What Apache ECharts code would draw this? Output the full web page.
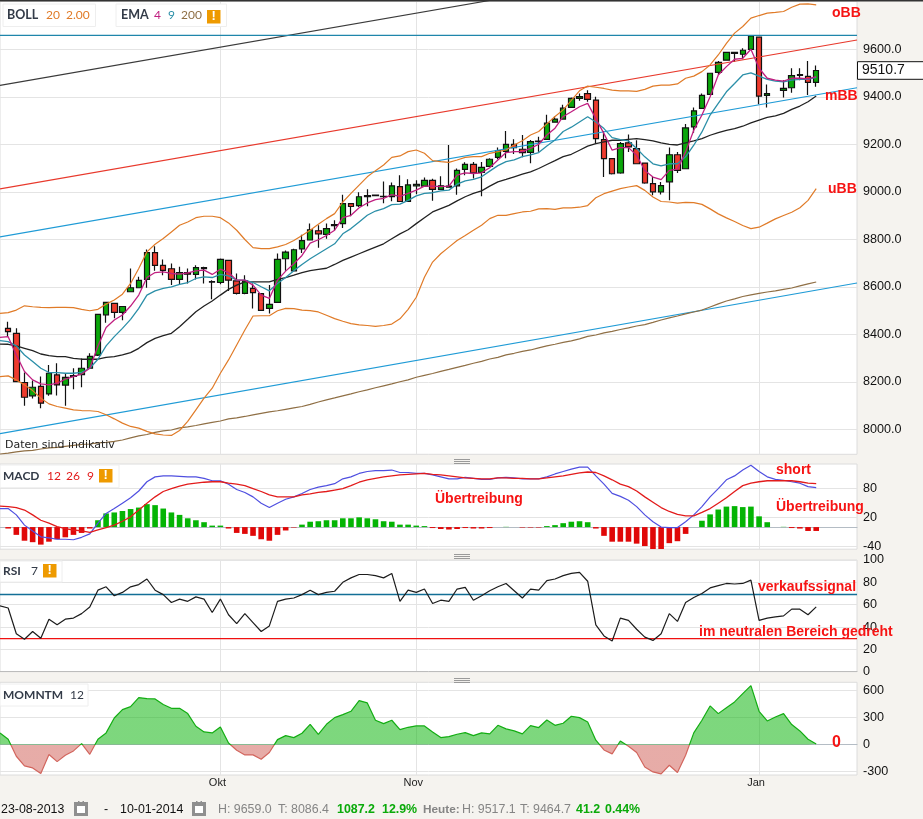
<!DOCTYPE html>
<html><head><meta charset="utf-8">
<script src="https://cdn.jsdelivr.net/npm/echarts@6/dist/echarts.min.js"></script>
<style>html,body{margin:0;padding:0;background:#f5f3ef}#c{width:923px;height:819px}</style>
</head><body><div id="c"></div>
<script>
const dates=['23.08','26.08','27.08','28.08','29.08','30.08','02.09','03.09','04.09','05.09','06.09','09.09','10.09','11.09','12.09','13.09','16.09','17.09','18.09','19.09','20.09','23.09','24.09','25.09','26.09','27.09','30.09','01.10','02.10','03.10','04.10','07.10','08.10','09.10','10.10','11.10','14.10','15.10','16.10','17.10','18.10','21.10','22.10','23.10','24.10','25.10','28.10','29.10','30.10','31.10','01.11','04.11','05.11','06.11','07.11','08.11','11.11','12.11','13.11','14.11','15.11','18.11','19.11','20.11','21.11','22.11','25.11','26.11','27.11','28.11','29.11','02.12','03.12','04.12','05.12','06.12','09.12','10.12','11.12','12.12','13.12','16.12','17.12','18.12','19.12','20.12','23.12','24.12','25.12','26.12','27.12','30.12','31.12','01.01','02.01','03.01','06.01','07.01','08.01','09.01','10.01','13.01','14.01','15.01','16.01','17.01'];
const monthTicks={'01.10':'Okt','04.11':'Nov','01.01':'Jan'};
const priceTicks=[8000,8200,8400,8600,8800,9000,9200,9400,9600];
const macdTicks=[-40,20,80];
const rsiTicks=[0,20,40,60,80,100];
const momTicks=[-300,0,300,600];
// candles: first entry is 26.08
const open=[8425,8404,8197,8141,8181,8149,8229,8186,8223,8230,8257,8312,8482,8530,8492,8579,8596,8631,8744,8690,8676,8631,8660,8652,8676,8620,8618,8711,8625,8572,8593,8571,8509,8534,8718,8667,8760,8797,8836,8821,8857,8866,8950,8942,8980,8986,8979,8980,9022,8959,9025,9024,9048,9010,9019,9025,9094,9115,9082,9107,9145,9170,9200,9179,9166,9211,9221,9293,9306,9355,9393,9413,9386,9220,9140,9079,9206,9182,9121,9034,8999,9042,9156,9097,9273,9351,9410,9503,9554,9583,9579,9600,9651,9406,null,9427,9438,9490,9486,9461];
const close=[8411,8201,8135,8177,8110,8236,8187,8219,8226,8257,8307,8484,8534,8492,8517,8596,8627,8744,8690,8669,8631,8660,8653,8681,8681,8622,8715,8628,8572,8625,8575,8501,8526,8715,8746,8756,8794,8840,8823,8845,8862,8950,8938,8979,8984,8984,8981,9025,8959,9029,9031,9048,9010,9025,9024,9090,9115,9080,9103,9137,9173,9200,9186,9165,9211,9213,9289,9306,9352,9393,9401,9389,9224,9140,9076,9203,9189,9118,9037,9000,9026,9156,9090,9269,9341,9406,9499,9545,9587,9587,9596,9656,9403,9413,null,9435,9489,9493,9461,9510.7];
const low=[8390,8198,8099,8130,8089,8141,8142,8099,8169,8177,8254,8309,8449,8468,8459,8578,8594,8596,8667,8649,8607,8611,8614,8631,8614,8548,8611,8582,8568,8569,8509,8499,8488,8533,8668,8666,8742,8795,8764,8802,8838,8847,8897,8936,8939,8981,8952,8960,8957,8957,8990,9021,8962,9007,9018,8988,9070,9056,8981,9105,9137,9141,9159,9145,9120,9169,9218,9292,9303,9354,9383,9379,9203,9062,9073,9076,9168,9116,9034,8985,8989,8964,9079,9095,9249,9349,9407,9492,9552,9548,9558,9597,9369,9355,null,9397,9417,9470,9407,9442];
const high=[8453,8425,8239,8205,8222,8271,8278,8236,8257,8298,8320,8484,8537,8533,8519,8677,8642,8757,8771,8715,8698,8684,8677,8691,8684,8628,8719,8712,8656,8649,8614,8572,8607,8740,8753,8760,8819,8866,8859,8866,8880,8988,8953,8998,9011,8988,9043,9039,9070,9053,9049,9060,9055,9065,9197,9098,9124,9125,9125,9141,9186,9256,9221,9239,9218,9232,9324,9317,9366,9397,9414,9428,9400,9256,9140,9210,9241,9217,9121,9062,9041,9186,9168,9285,9355,9414,9501,9551,9590,9590,9604,9659,9652,9452,null,9470,9520,9520,9551,9532];
// overlays: first entry is 23.08
const ema4=[8387,8390,8313,8243,8208,8191,8187,8194,8211,8222,8233,8257,8351,8429,8460,8481,8519,8565,8639,8660,8663,8656,8653,8659,8667,8670,8652,8674,8660,8628,8628,8607,8565,8551,8628,8666,8697,8732,8784,8798,8816,8838,8891,8901,8933,8953,8967,8972,8988,8981,8993,9007,9024,9024,9022,9024,9070,9080,9077,9080,9101,9134,9165,9169,9169,9183,9200,9239,9268,9317,9337,9358,9372,9308,9245,9175,9186,9186,9154,9090,9062,9051,9090,9095,9168,9259,9323,9400,9492,9527,9558,9562,9600,9520,9478,9470,9466,9478,9478,9475,9485];
const ema9=[8373,8369,8351,8313,8285,8257,8239,8239,8236,8236,8240,8257,8295,8351,8390,8425,8463,8509,8565,8583,8593,8600,8610,8618,8635,8642,8639,8652,8646,8628,8628,8618,8600,8583,8614,8639,8668,8694,8718,8739,8760,8781,8823,8845,8873,8901,8919,8929,8946,8948,8964,8983,8993,8996,9004,9007,9032,9046,9052,9063,9087,9110,9127,9134,9148,9155,9165,9193,9218,9254,9272,9294,9316,9294,9266,9228,9220,9214,9182,9147,9118,9109,9118,9118,9147,9196,9252,9323,9372,9421,9456,9492,9501,9487,9473,9466,9463,9470,9473,9473,9482];
const bollMid=[8359,8358,8351,8341,8331,8317,8310,8306,8306,8299,8295,8295,8295,8303,8306,8313,8323,8341,8365,8383,8394,8404,8432,8463,8495,8519,8540,8565,8589,8607,8621,8621,8621,8621,8631,8639,8649,8660,8668,8673,8678,8694,8711,8725,8739,8753,8767,8781,8802,8823,8840,8866,8891,8915,8929,8943,8962,8979,8993,9004,9024,9042,9052,9063,9074,9084,9098,9115,9131,9148,9158,9175,9192,9203,9210,9217,9217,9221,9224,9220,9214,9206,9200,9197,9206,9214,9224,9238,9249,9259,9266,9276,9290,9302,9313,9320,9330,9347,9361,9379,9403];
const bollUp=[8488,8491,8502,8520,8516,8513,8512,8513,8513,8512,8505,8499,8505,8527,8544,8569,8614,8677,8747,8779,8803,8831,8859,8873,8891,8897,8897,8891,8869,8838,8799,8765,8761,8761,8768,8778,8795,8816,8838,8863,8887,8908,8957,8993,9028,9063,9089,9113,9145,9151,9169,9176,9162,9131,9127,9124,9134,9145,9148,9148,9162,9169,9176,9197,9215,9239,9254,9286,9317,9345,9385,9425,9445,9440,9435,9428,9425,9425,9423,9431,9445,9449,9449,9454,9478,9487,9506,9534,9576,9625,9668,9696,9731,9742,9752,9755,9759,9777,9790,9791,9787];
const bollLow=[8222,8225,8208,8187,8163,8131,8107,8096,8089,8082,8079,8078,8075,8061,8044,8026,8012,8005,7991,7981,7976,7974,7995,8033,8082,8131,8173,8236,8292,8355,8418,8477,8478,8478,8499,8509,8508,8502,8500,8494,8480,8466,8455,8445,8440,8437,8433,8437,8443,8465,8505,8556,8640,8704,8739,8767,8795,8816,8838,8859,8887,8901,8901,8908,8915,8918,8928,8929,8926,8932,8932,8935,8942,8975,8992,9003,9013,9020,9026,9006,8978,8959,8957,8952,8955,8954,8947,8928,8907,8890,8875,8858,8845,8851,8868,8886,8900,8914,8933,8964,9013];
const ema200=[7896,7900,7905,7909,7911,7917,7922,7924,7928,7932,7936,7938,7943,7945,7949,7955,7964,7972,7978,7987,7993,7997,8006,8010,8016,8023,8029,8035,8044,8048,8054,8061,8067,8073,8078,8084,8090,8096,8105,8115,8124,8132,8141,8149,8158,8166,8175,8183,8191,8200,8208,8219,8227,8235,8244,8252,8261,8269,8278,8286,8296,8303,8313,8320,8328,8334,8343,8351,8358,8366,8372,8381,8391,8397,8406,8412,8420,8427,8435,8441,8450,8460,8469,8477,8486,8494,8502,8515,8528,8540,8549,8559,8566,8572,8578,8583,8589,8595,8604,8612,8620];
// trend lines, start and end value over the whole date range
const trendBlack=[9448,10074];
const trendRed=[9012,9639];
const trendBlueUp=[8810,9438];
const trendBlueLow=[7982,8616];
const levelTop=[9658.5,9658.5];
// indicators: first entry is 23.08
const macdHist=[0,-3,-16,-28,-31,-36,-30,-25,-21,-16,-12,-3,14,28,30,33,37,40,47,45,38,30,25,18,14,10,3,3,-3,-12,-14,-18,-25,-28,-16,-7,-1,5,11,12,14,14,18,18,20,18,16,12,11,5,5,3,2,-2,-4,-5,-4,-2,-3,-3,-2,0,0.5,0,-1,-1,-1,2,4,8,11,12,10,-3,-18,-30,-30,-30,-34,-39,-45,-45,-33,-29,-14,0,13,26,36,42,43,41,42,22,10,0,0.5,-2,-3,-8,-8];
const macdLine=[38,38,25,4,-8,-20,-22,-25,-25,-26,-21,-14,8,28,38,49,60,74,93,103,105,105,104,103,103,100,95,95,88,77,71,62,49,40,49,57,62,69,77,82,85,89,99,103,110,114,116,116,117,112,112,110,110,107,103,99,99,102,100,98,98,101,102,101,99,99,99,103,109,114,119,123,123,105,88,69,63,55,42,25,11,0,-1,-1,11,25,42,62,79,97,105,117,127,114,103,98,96,93,90,83,81];
const macdSignal=[43,42,40,35,25,14,8,1,-3,-6,-8,-11,-6,-1,4,12,21,35,49,62,73,79,84,88,90,92,93,93,90,88,85,79,73,66,62,62,62,66,68,71,73,76,79,85,92,97,100,103,105,107,108,109,110,108,107,105,103,101,100,99,99,101,101,100,100,99,99,101,103,105,108,111,113,112,105,97,88,83,74,62,51,40,32,26,23,23,30,38,49,60,73,85,90,93,95,95,95,95,93,90,89];
const rsi=[59,57,34,29,36,30,47,42,47,48,52,58,73,76,68,71,76,78,83,73,69,62,65,63,67,65,53,65,51,43,52,44,36,41,63,65,66,69,73,69,71,72,80,84,87,87,86,84,88,63,73,71,74,61,64,63,74,75.5,64,68,72.5,76,79,72.5,66,74,73,81.5,83,86,88,89,81,42,32,27.5,48,46,38,31,28,34,52,45,62,66.5,70,75,77,79,78.5,79,82,46,48,49,50,56,56,51,58];
const rsiHigh=[69.1,69.1];
const rsiLow=[29.7,29.7];
const momentum=[129,59,-129,-236,-258,-320,-110,-188,-118,-70,11,-107,59,129,294,386,419,519,508,504,442,401,401,342,202,140,129,195,18,-63,-114,-114,-162,-88,55,99,77,125,224,114,224,298,331,368,486,460,269,232,269,166,191,206,206,140,77,88,114,132,99,129,118,213,173,151,118,210,188,272,213,236,313,298,250,48,-59,-103,40,-18,-88,-247,-302,-324,-228,-309,-118,129,269,427,342,408,471,563,651,368,261,305,342,221,151,59,7];

const lastPrice=close[close.length-1];
const axisFont='"Liberation Sans",Arial,sans-serif';
const legendFont='Lato,"Open Sans",sans-serif';
const candles=[null].concat(open.map((o,i)=>o===null?null:[o,close[i],low[i],high[i]])).map(d=>d===null?'-':d);
const n=dates.length-1;
const two=(v)=>[[dates[0],v[0]],[dates[n],v[1]]];
const gridLine={show:true,lineStyle:{color:'#e4e4e4',width:1}};
const grids=[
 {left:-2.48,width:859.5,top:1.3,height:453},
 {left:-2.48,width:859.5,top:464,height:85.2},
 {left:-2.48,width:859.5,top:560,height:111.7},
 {left:-2.48,width:859.5,top:682.3,height:92.7}
].map(g=>Object.assign(g,{show:true,backgroundColor:'#fff',borderColor:'#dcdcdc',borderWidth:1}));
const xAxis=grids.map((g,i)=>({
 type:'category',gridIndex:i,data:dates,boundaryGap:false,
 axisTick:{show:false},
 axisLine:(i===1||i===3)?{show:true,onZero:true,lineStyle:{color:'#b4bcc4',width:1}}:(i===2?{show:true,onZero:false,lineStyle:{color:'#bcbcbc',width:1}}:{show:false}),
 splitLine:{show:true,interval:(idx,v)=>!!monthTicks[v],lineStyle:{color:'#e4e4e4',width:1}},
 axisLabel:i===3?{show:true,interval:(idx,v)=>!!monthTicks[v],formatter:v=>monthTicks[v]||'',color:'#222',fontFamily:axisFont,fontSize:11,margin:2,padding:[0,6,0,0]}:{show:false}
}));
const yAxisBase=(i,min,max,ticks,fmt)=>({
 type:'value',gridIndex:i,position:'right',min,max,
 axisLine:{show:false},axisTick:{show:false,customValues:ticks},
 splitLine:gridLine,
 axisLabel:{show:true,customValues:ticks,formatter:fmt,color:'#111',fontFamily:axisFont,fontSize:12.6,margin:6,lineHeight:12,padding:[0,0,3,0]}
});
const yAxis=[
 yAxisBase(0,7894.7,9802,priceTicks,v=>v.toFixed(1)),
 yAxisBase(1,-45.4,129.4,macdTicks,v=>String(v)),
 yAxisBase(2,0,100,rsiTicks,v=>String(v)),
 yAxisBase(3,-336,688,momTicks,v=>String(v))
];
const line=(name,data,color,ax,w)=>({name,type:'line',xAxisIndex:ax,yAxisIndex:ax,data,symbol:'none',smooth:false,silent:true,animation:false,lineStyle:{color,width:w||1.2}});
// momentum fill: green above the zero line, red below
const momGrid=grids[3],momAxis=yAxis[3];
const zeroAt=momAxis.max/(momAxis.max-momAxis.min);
const momFill=(up,down)=>new echarts.graphic.LinearGradient(0,momGrid.top,0,momGrid.top+momGrid.height,[{offset:0,color:up},{offset:zeroAt,color:up},{offset:zeroAt,color:down},{offset:1,color:down}],true);
const series=[
 line('Trend oben',two(trendBlack),'#3a3a3a',0,1.1),
 line('Hoch',two(levelTop),'#1f86ab',0,1.1),
 line('Trend rot',two(trendRed),'#e8392c',0,1.2),
 line('Trend blau oben',two(trendBlueUp),'#1f9bd6',0,1.2),
 line('Trend blau unten',two(trendBlueLow),'#1f9bd6',0,1.2),
 line('EMA 200',ema200,'#8f6f45',0,1.2),
 {name:'Kurs',type:'candlestick',xAxisIndex:0,yAxisIndex:0,data:candles,barWidth:6,animation:false,silent:true,
  itemStyle:{color:'#0aa60a',color0:'#ee3b2e',borderColor:'#111',borderColor0:'#111',borderColorDoji:'#111',borderWidth:1.2}},
 line('BOLL oben',bollUp,'#e07b28',0,1.2),
 line('BOLL unten',bollLow,'#e07b28',0,1.2),
 line('BOLL Mitte',bollMid,'#222',0,1.3),
 line('EMA 9',ema9,'#2b8fa8',0,1.3),
 line('EMA 4',ema4,'#c01f80',0,1.3),
 {name:'MACD Hist',type:'bar',xAxisIndex:1,yAxisIndex:1,data:macdHist,barWidth:5.6,animation:false,silent:true,
  itemStyle:{color:p=>p.value>=0?'#04b404':'#e00808'}},
 line('MACD',macdLine,'#4f4fe0',1,1.2),
 line('Signal',macdSignal,'#e21b1b',1,1.3),
 line('RSI 70',two(rsiHigh),'#136f96',2,1.3),
 line('RSI 30',two(rsiLow),'#f01010',2,1.3),
 line('RSI',rsi,'#1c1c1c',2,1.2),
 Object.assign(line('MOMNTM',momentum,momFill('#12ad12','#d2655d'),3,1.2),{areaStyle:{color:momFill('#0fb50f','#d2655d'),opacity:0.54,origin:0}})
];
// --- page furniture
const g=[];
const txt=(x,y,t,fill,size,font,weight,align)=>g.push({type:'text',x,y,z:50,silent:true,style:{text:t,fill,fontSize:size,fontFamily:font||axisFont,fontWeight:weight||'normal',align:align||'left',verticalAlign:'middle'}});
const rect=(x,y,w,h,fill,stroke,z)=>g.push({type:'rect',x,y,z:z||40,silent:true,shape:{x:0,y:0,width:w,height:h},style:{fill,stroke:stroke||null,lineWidth:stroke?1:0}});
const warn=(x,y)=>{rect(x,y,13.5,13.5,'#ee9a00');txt(x+6.75,y+6.5,'!','#fff',13,axisFont,'bold','center');};
const box=(x,y,w,h)=>rect(x,y,w,h,'#fff','#eeeeee');
const handle=(x,y)=>{[0,2,4].forEach(d=>rect(x,y+d,16,1,'#9a9a9a'));};
const cal=(x)=>{rect(x,802,14,14,'#8f8f8f');rect(x+3,806,8,7,'#fff');rect(x+4,801,1.5,3,'#8f8f8f');rect(x+8.5,801,1.5,3,'#8f8f8f');};
rect(0,0,923,1.6,'#333');
box(3,4,92.5,22.5);box(116,4,110.5,22.5);
txt(7,15,'BOLL','#333b48',12.5,legendFont,'bold');txt(46,15,'20','#e07b28',12,legendFont);txt(66,15,'2.00','#e07b28',12,legendFont);
txt(121,15,'EMA','#333b48',12.5,legendFont,'bold');txt(154,15,'4','#c01f80',12,legendFont);txt(168,15,'9','#2b8fa8',12,legendFont);txt(181,15,'200','#8f6f45',12,legendFont);warn(207,10);
txt(5,445.5,'Daten sind indikativ','#222',11,'"DejaVu Sans",sans-serif');
rect(0,465,119,22.7,'#fff','#eeeeee');
txt(3,476,'MACD','#333b48',12,legendFont,'bold');txt(47,476,'12','#e21b1b',12,legendFont);txt(66,476,'26','#e21b1b',12,legendFont);txt(87,476,'9','#e21b1b',12,legendFont);warn(99,469);
rect(0,561,62,21,'#fff','#eeeeee');
txt(3,571,'RSI','#333b48',12,legendFont,'bold');txt(31,571,'7','#333b48',12,legendFont);warn(43,564);
rect(0,684,88,22,'#fff','#eeeeee');
txt(3,695,'MOMNTM','#333b48',12,legendFont,'bold');txt(70,695,'12','#333b48',12,legendFont);
handle(454,459);handle(454,554);handle(454,678);
rect(857.5,61.7,70,17.6,'#fff','#111');
txt(862,70.5,lastPrice.toFixed(1),'#111',14);
const red='#f61414';
txt(832,13,'oBB',red,14,axisFont,'bold');txt(825,96,'mBB',red,14,axisFont,'bold');txt(828,189,'uBB',red,14,axisFont,'bold');
txt(776,470,'short',red,14,axisFont,'bold');txt(435,499.5,'Übertreibung',red,14,axisFont,'bold');txt(776,507,'Übertreibung',red,14,axisFont,'bold');
txt(758,587,'verkaufssignal',red,14,axisFont,'bold');txt(699,632,'im neutralen Bereich gedreht',red,14,axisFont,'bold');txt(832,743,'0',red,16,axisFont,'bold');
// footer
const fy=809.5;
txt(1,fy,'23-08-2013','#111',12.4);cal(74);txt(104,fy,'-','#111',12.4);txt(120,fy,'10-01-2014','#111',12.4);cal(192);
txt(218,fy,'H: 9659.0','#858585',12.4);txt(278,fy,'T: 8086.4','#858585',12.4);
txt(337,fy,'1087.2','#0aaa0a',12.4,axisFont,'bold');txt(382,fy,'12.9%','#0aaa0a',12.4,axisFont,'bold');
txt(423,fy,'Heute:','#858585',11.8,axisFont,'bold');txt(462,fy,'H: 9517.1','#858585',12.4);txt(520,fy,'T: 9464.7','#858585',12.4);
txt(576,fy,'41.2','#0aaa0a',12.4,axisFont,'bold');txt(605,fy,'0.44%','#0aaa0a',12.4,axisFont,'bold');

const chart=echarts.init(document.getElementById('c'),null,{renderer:'canvas'});
chart.setOption({
 animation:false,backgroundColor:'#f5f3ef',tooltip:{show:false},legend:{show:false},
 grid:grids,xAxis,yAxis,series,graphic:g
});
</script></body></html>
